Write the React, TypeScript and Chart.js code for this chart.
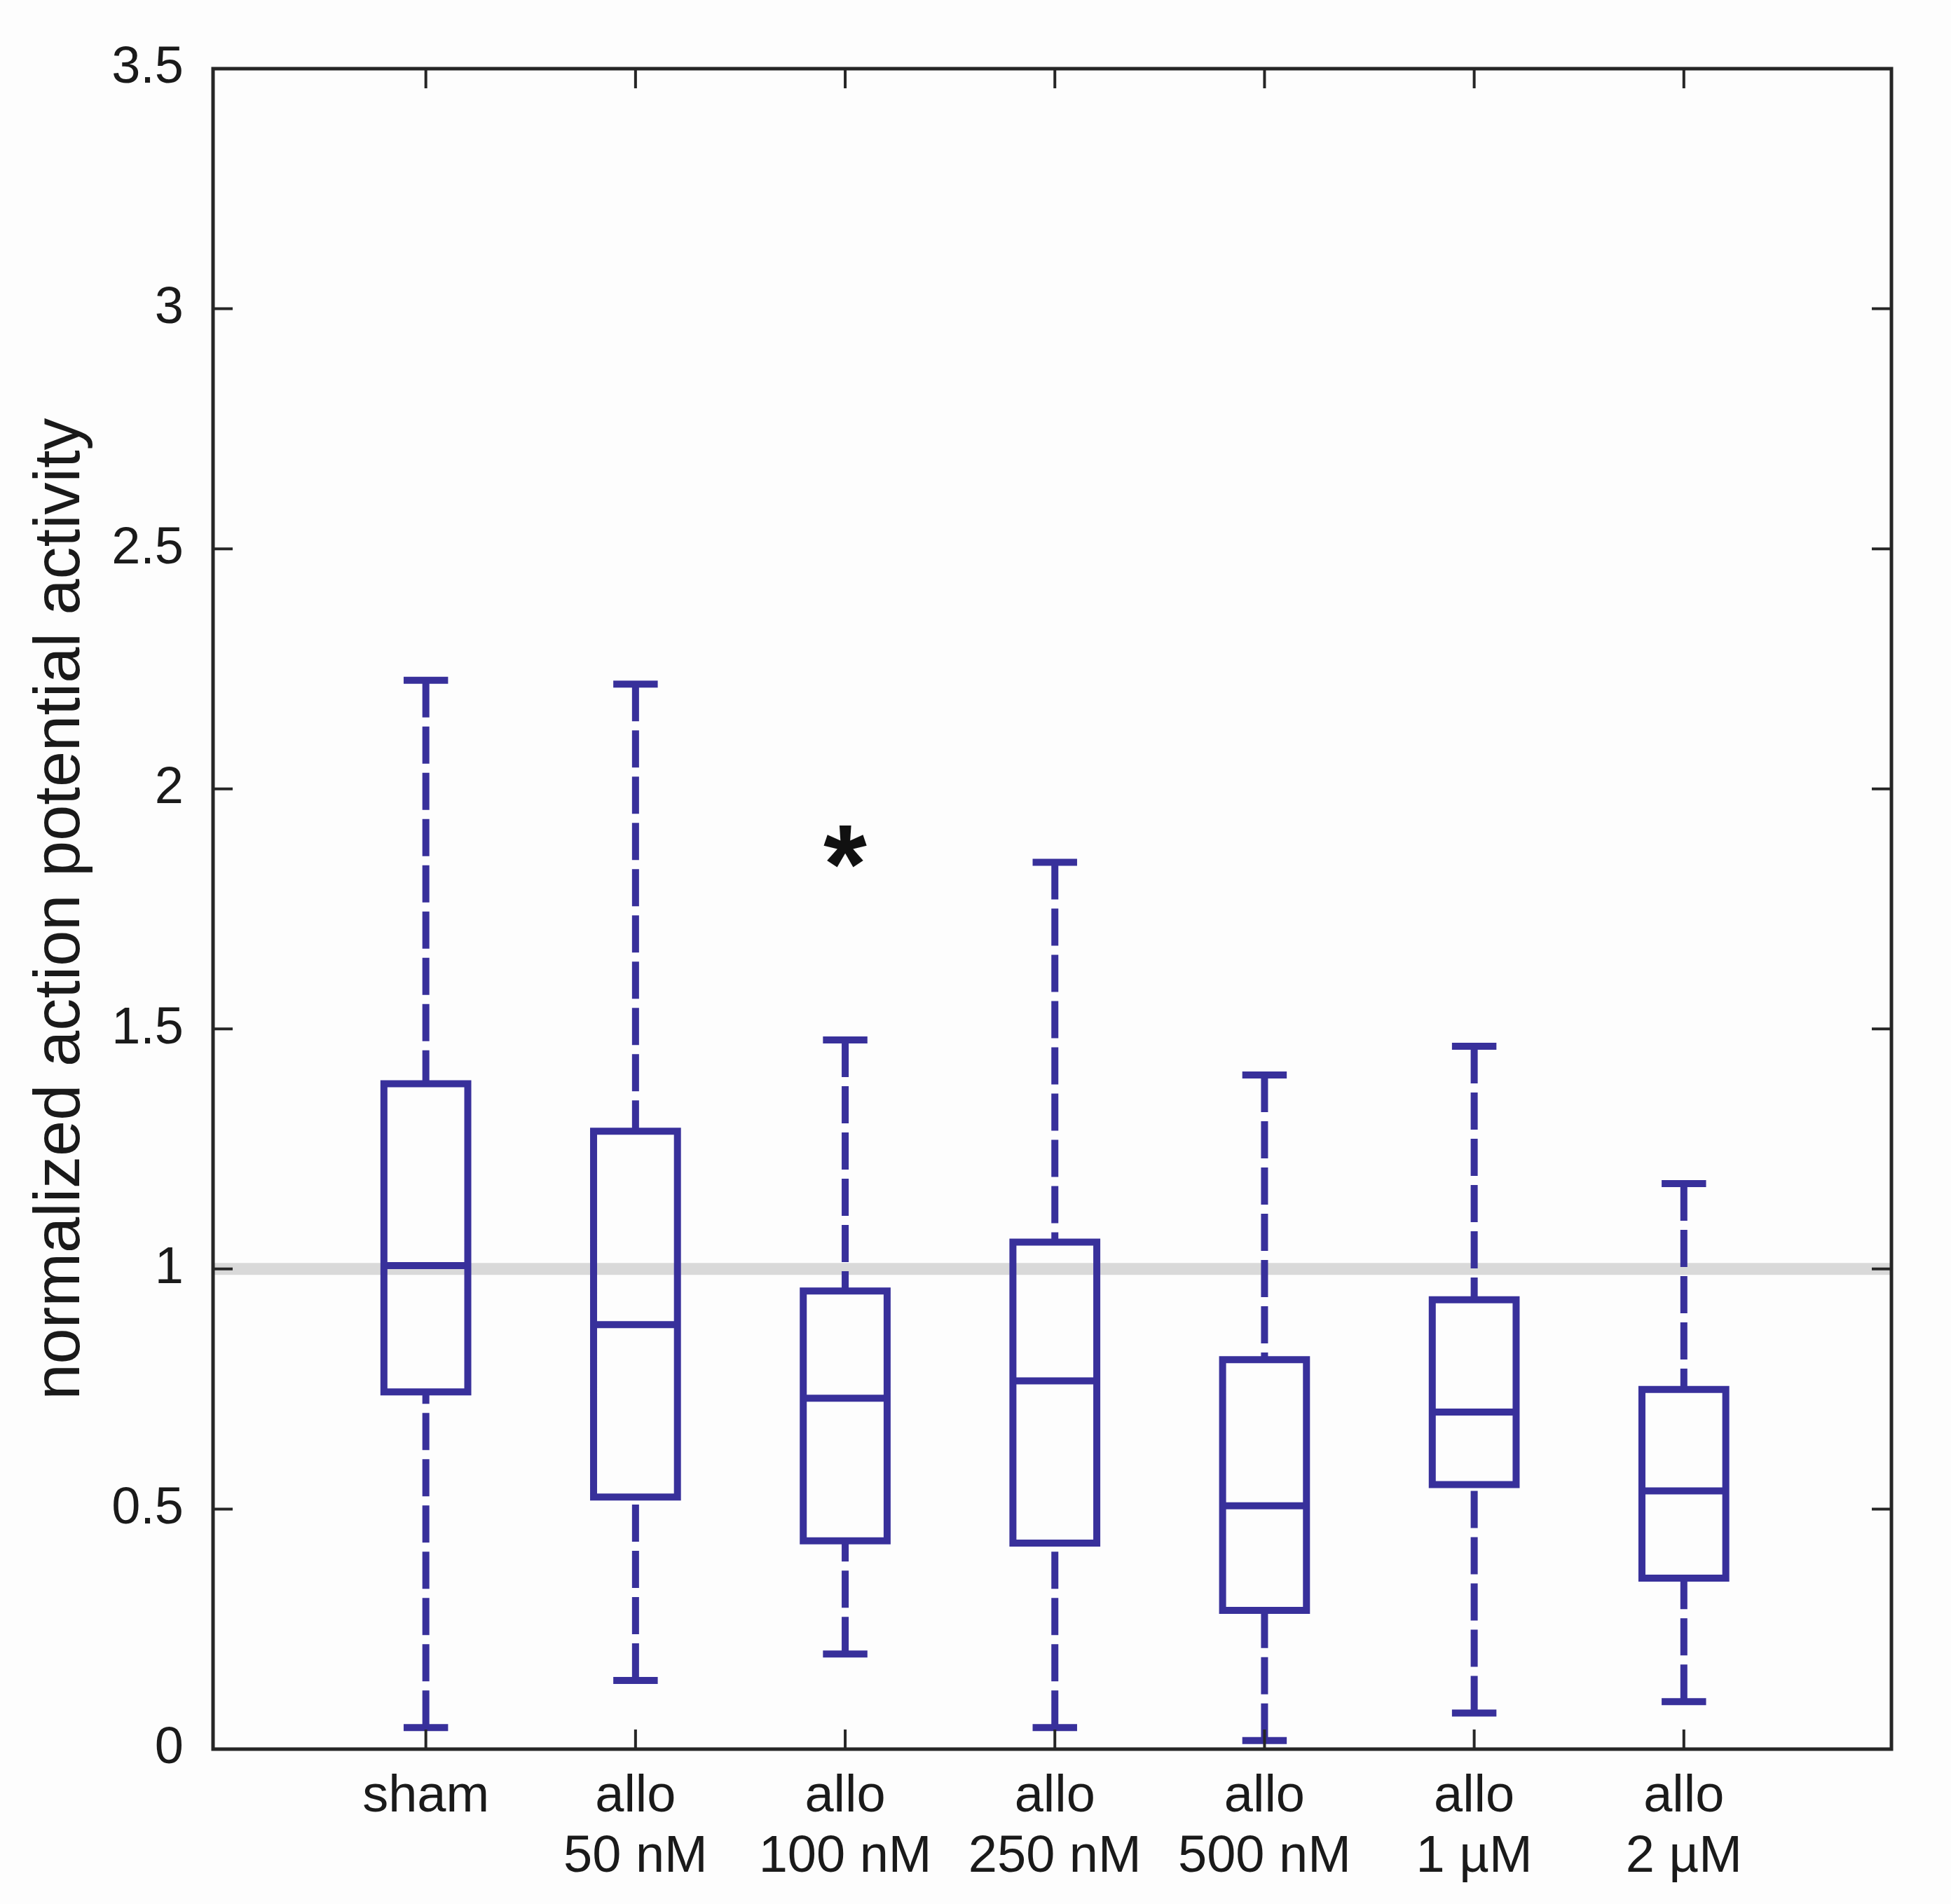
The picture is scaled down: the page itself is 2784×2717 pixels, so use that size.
import React, { useEffect, useRef } from 'react';
import { Chart, registerables } from 'chart.js';

Chart.register(...registerables);

// ---------- data ----------
const categoryLabels: string[][] = [
  ['sham'],
  ['allo', '50 nM'],
  ['allo', '100 nM'],
  ['allo', '250 nM'],
  ['allo', '500 nM'],
  ['allo', '1 µM'],
  ['allo', '2 µM'],
];
const positions = [1, 2, 3, 4, 5, 6, 7];
const whiskerMax = [2.226, 2.218, 1.477, 1.847, 1.404, 1.464, 1.178];
const upperQuartile = [1.386, 1.287, 0.954, 1.056, 0.811, 0.936, 0.749];
const medianValues = [1.007, 0.884, 0.731, 0.767, 0.507, 0.702, 0.538];
const lowerQuartile = [0.744, 0.525, 0.434, 0.429, 0.289, 0.551, 0.356];
const whiskerMin = [0.045, 0.143, 0.198, 0.045, 0.018, 0.075, 0.099];
const yTickValues = [0, 0.5, 1, 1.5, 2, 2.5, 3, 3.5];
const referenceValue = 1;
const starPositions = [3];
const starValues = [1.88];
const starLabels = ['*'];

// ---------- styling ----------
const X_MIN = -0.015;
const X_MAX = 7.99;
const BOX_HALF = 0.2;
const CAP_HALF = 0.106;
const BLUE = '#38309b';
const AXIS = '#262626';
const TEXT = '#1a1a1a';
const FONT = "'Liberation Sans', Arial, Helvetica, sans-serif";

type Pt = { x: number; y: number | null };

function buildBoxes(): Pt[] {
  const pts: Pt[] = [];
  positions.forEach((p, i) => {
    pts.push({ x: p - BOX_HALF, y: lowerQuartile[i] });
    pts.push({ x: p + BOX_HALF, y: lowerQuartile[i] });
    pts.push({ x: p + BOX_HALF, y: upperQuartile[i] });
    pts.push({ x: p - BOX_HALF, y: upperQuartile[i] });
    pts.push({ x: p - BOX_HALF, y: lowerQuartile[i] });
    pts.push({ x: p, y: null });
  });
  return pts;
}
function buildMedians(): Pt[] {
  const pts: Pt[] = [];
  positions.forEach((p, i) => {
    pts.push({ x: p - BOX_HALF, y: medianValues[i] });
    pts.push({ x: p + BOX_HALF, y: medianValues[i] });
    pts.push({ x: p, y: null });
  });
  return pts;
}
function buildWhiskers(): Pt[] {
  const pts: Pt[] = [];
  positions.forEach((p, i) => {
    pts.push({ x: p, y: whiskerMax[i] });
    pts.push({ x: p, y: upperQuartile[i] });
    pts.push({ x: p, y: null });
    pts.push({ x: p, y: whiskerMin[i] });
    pts.push({ x: p, y: lowerQuartile[i] });
    pts.push({ x: p, y: null });
  });
  return pts;
}
function buildCaps(): Pt[] {
  const pts: Pt[] = [];
  positions.forEach((p, i) => {
    pts.push({ x: p - CAP_HALF, y: whiskerMax[i] });
    pts.push({ x: p + CAP_HALF, y: whiskerMax[i] });
    pts.push({ x: p, y: null });
    pts.push({ x: p - CAP_HALF, y: whiskerMin[i] });
    pts.push({ x: p + CAP_HALF, y: whiskerMin[i] });
    pts.push({ x: p, y: null });
  });
  return pts;
}

const framePlugin = {
  id: 'frameAndStars',
  afterDatasetsDraw(chart: any) {
    const { ctx, chartArea } = chart;
    const { left, right, top, bottom } = chartArea;
    const xs = chart.scales.x;
    const ys = chart.scales.y;
    ctx.save();
    // significance markers
    ctx.fillStyle = '#111111';
    ctx.textAlign = 'center';
    ctx.textBaseline = 'alphabetic';
    starPositions.forEach((p, i) => {
      ctx.font = `bold 100px ${FONT}`;
      const m0 = ctx.measureText(starLabels[i]);
      const w0 = m0.actualBoundingBoxLeft + m0.actualBoundingBoxRight;
      const size = (100 * 62) / w0;
      ctx.font = `bold ${size}px ${FONT}`;
      const m = ctx.measureText(starLabels[i]);
      const cx = xs.getPixelForValue(p);
      const cy = ys.getPixelForValue(starValues[i]);
      ctx.fillText(starLabels[i], cx, cy + (m.actualBoundingBoxAscent - m.actualBoundingBoxDescent) / 2);
    });
    // frame
    ctx.strokeStyle = AXIS;
    ctx.lineWidth = 5;
    ctx.lineJoin = 'miter';
    ctx.beginPath();
    ctx.rect(left, top, right - left, bottom - top);
    ctx.stroke();
    // inward ticks on all sides
    const tl = 28;
    ctx.lineWidth = 4;
    ctx.beginPath();
    xs.ticks.forEach((t: any) => {
      const px = xs.getPixelForValue(t.value);
      ctx.moveTo(px, bottom);
      ctx.lineTo(px, bottom - tl);
      ctx.moveTo(px, top);
      ctx.lineTo(px, top + tl);
    });
    ys.ticks.forEach((t: any) => {
      const py = ys.getPixelForValue(t.value);
      ctx.moveTo(left, py);
      ctx.lineTo(left + tl, py);
      ctx.moveTo(right, py);
      ctx.lineTo(right - tl, py);
    });
    ctx.stroke();
    ctx.restore();
  },
};

export default function App() {
  const canvasRef = useRef<HTMLCanvasElement | null>(null);

  useEffect(() => {
    const canvas = canvasRef.current;
    if (!canvas) return;
    const chart = new Chart(canvas, {
      type: 'line',
      data: {
        datasets: [
          {
            label: 'boxes',
            data: buildBoxes() as any,
            borderColor: BLUE,
            borderWidth: 10,
            borderJoinStyle: 'miter',
            borderCapStyle: 'square',
            pointRadius: 0,
            fill: false,
            tension: 0,
            order: 1,
          },
          {
            label: 'medians',
            data: buildMedians() as any,
            borderColor: BLUE,
            borderWidth: 10,
            borderCapStyle: 'butt',
            pointRadius: 0,
            fill: false,
            order: 1,
          },
          {
            label: 'whiskers',
            data: buildWhiskers() as any,
            borderColor: BLUE,
            borderWidth: 10,
            borderDash: [53, 13],
            borderCapStyle: 'butt',
            pointRadius: 0,
            fill: false,
            order: 2,
          },
          {
            label: 'caps',
            data: buildCaps() as any,
            borderColor: BLUE,
            borderWidth: 10,
            borderCapStyle: 'butt',
            pointRadius: 0,
            fill: false,
            order: 1,
          },
          {
            label: 'reference',
            data: [
              { x: X_MIN, y: referenceValue },
              { x: X_MAX, y: referenceValue },
            ] as any,
            borderColor: '#d9d9d9',
            borderWidth: 17,
            pointRadius: 0,
            fill: false,
            order: 10,
          },
        ],
      },
      options: {
        animation: false,
        responsive: false,
        maintainAspectRatio: false,
        devicePixelRatio: 1,
        events: [],
        layout: { padding: { left: 0, top: 98, right: 85, bottom: 0 } },
        plugins: {
          legend: { display: false },
          tooltip: { enabled: false },
          title: { display: false },
        },
        scales: {
          x: {
            type: 'linear',
            min: X_MIN,
            max: X_MAX,
            grid: { display: false },
            border: { display: false },
            afterBuildTicks: (scale: any) => {
              scale.ticks = positions.map((v) => ({ value: v }));
            },
            afterFit: (scale: any) => {
              scale.height = 221;
            },
            ticks: {
              autoSkip: false,
              maxRotation: 0,
              minRotation: 0,
              padding: 18,
              color: TEXT,
              font: { family: FONT, size: 74, lineHeight: 1.16 },
              callback: (value: any) => {
                const idx = positions.indexOf(Number(value));
                return idx >= 0 ? categoryLabels[idx] : '';
              },
            },
          },
          y: {
            type: 'linear',
            min: 0,
            max: 3.5,
            grid: { display: false },
            border: { display: false },
            afterBuildTicks: (scale: any) => {
              scale.ticks = yTickValues.map((v) => ({ value: v }));
            },
            afterFit: (scale: any) => {
              scale.width = 304;
            },
            ticks: {
              padding: 34,
              color: TEXT,
              font: { family: FONT, size: 74 },
              callback: (value: any) => String(value),
            },
            title: {
              display: true,
              text: 'normalized action potential activity',
              color: TEXT,
              font: { family: FONT, size: 92, lineHeight: 1.2 },
              padding: { top: 32, bottom: 0 },
            },
          },
        },
      },
      plugins: [framePlugin],
    });
    return () => chart.destroy();
  }, []);

  return (
    <div
      style={{
        position: 'fixed',
        left: 0,
        top: 0,
        width: 2784,
        height: 2717,
        background: '#fdfdfd',
      }}
    >
      <canvas ref={canvasRef} width={2784} height={2717} style={{ display: 'block' }} />
    </div>
  );
}
